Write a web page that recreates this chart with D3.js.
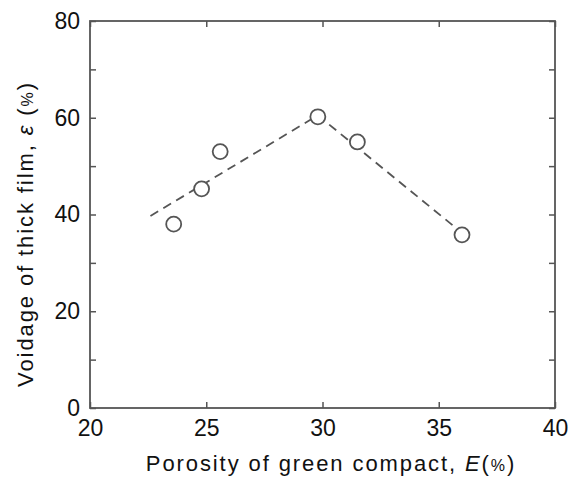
<!DOCTYPE html>
<html>
<head>
<meta charset="utf-8">
<script src="https://cdn.jsdelivr.net/npm/d3@7"></script>
<style>
body { margin: 0; background: white; }
.axis text { font-family: "Liberation Sans", Arial, sans-serif; font-size: 23px; fill: #111; }
.axis line { stroke: #555; stroke-width: 1.5; }
.title { font-family: "Liberation Sans", Arial, sans-serif; font-size: 22px; fill: #111; letter-spacing: 1.9px; }
</style>
</head>
<body>
<script>
// measured points
const porosity = [23.6, 24.8, 25.6, 29.8, 31.5, 36.0];
const voidage  = [38.0, 45.3, 53.0, 60.2, 55.0, 35.8];
// dashed trend line
const trendX = [22.6, 29.8, 36.0];
const trendY = [39.7, 60.5, 36.2];
const xTicks = [20, 25, 30, 35, 40];
const yTicks = [0, 20, 40, 60, 80];
const yMinor = [0, 10, 20, 30, 40, 50, 60, 70, 80];

const W = 573, H = 477;
const margin = {top: 21, right: 18, bottom: 69, left: 90};
const width = W - margin.left - margin.right;
const height = H - margin.top - margin.bottom;

const svg = d3.select("body").append("svg")
  .attr("width", W).attr("height", H);
const g = svg.append("g")
  .attr("transform", `translate(${margin.left}, ${margin.top})`);

const x = d3.scaleLinear().domain([20, 40]).range([0, width]);
const y = d3.scaleLinear().domain([0, 80]).range([height, 0]);

// inward ticks on all four sides
g.append("g").attr("class", "axis")
  .attr("transform", `translate(0, ${height})`)
  .call(d3.axisBottom(x).tickValues(xTicks).tickSizeInner(-6).tickSizeOuter(0).tickPadding(12))
  .call(a => a.select(".domain").remove());
g.append("g").attr("class", "axis")
  .call(d3.axisTop(x).tickValues(xTicks).tickSizeInner(-6).tickSizeOuter(0).tickFormat(""))
  .call(a => a.select(".domain").remove());
g.append("g").attr("class", "axis")
  .call(d3.axisLeft(y).tickValues(yMinor).tickSizeInner(-6).tickSizeOuter(0).tickPadding(10)
        .tickFormat(d => yTicks.includes(d) ? d : ""))
  .call(a => a.select(".domain").remove());
g.append("g").attr("class", "axis")
  .attr("transform", `translate(${width}, 0)`)
  .call(d3.axisRight(y).tickValues(yMinor).tickSizeInner(-6).tickSizeOuter(0).tickFormat(""))
  .call(a => a.select(".domain").remove());

g.append("rect")
  .attr("width", width).attr("height", height)
  .attr("fill", "none").attr("stroke", "#555").attr("stroke-width", 1.8);

const line = d3.line().x(d => x(d[0])).y(d => y(d[1]));
g.append("path")
  .datum(d3.zip(trendX, trendY))
  .attr("d", line)
  .attr("fill", "none")
  .attr("stroke", "#555")
  .attr("stroke-width", 1.8)
  .attr("stroke-dasharray", "9,6");

g.selectAll("circle")
  .data(d3.zip(porosity, voidage))
  .join("circle")
  .attr("cx", d => x(d[0]))
  .attr("cy", d => y(d[1]))
  .attr("r", 7.5)
  .attr("fill", "white")
  .attr("stroke", "#555")
  .attr("stroke-width", 1.8);

// axis titles
const xt = svg.append("text").attr("class", "title")
  .attr("x", 331).attr("y", 471).attr("text-anchor", "middle");
xt.append("tspan").text("Porosity of green compact,  ");
xt.append("tspan").attr("font-style", "italic").text("E");
xt.append("tspan").text("(");
xt.append("tspan").attr("font-size", "16px").text("%");
xt.append("tspan").text(")");

const yt = svg.append("text").attr("class", "title")
  .attr("transform", "translate(33, 234) rotate(-90)")
  .attr("text-anchor", "middle");
yt.append("tspan").text("Voidage of thick film,  ");
yt.append("tspan").attr("font-style", "italic").text("ε");
yt.append("tspan").text(" (");
yt.append("tspan").attr("font-size", "16px").text("%");
yt.append("tspan").text(")");
</script>
</body>
</html>
